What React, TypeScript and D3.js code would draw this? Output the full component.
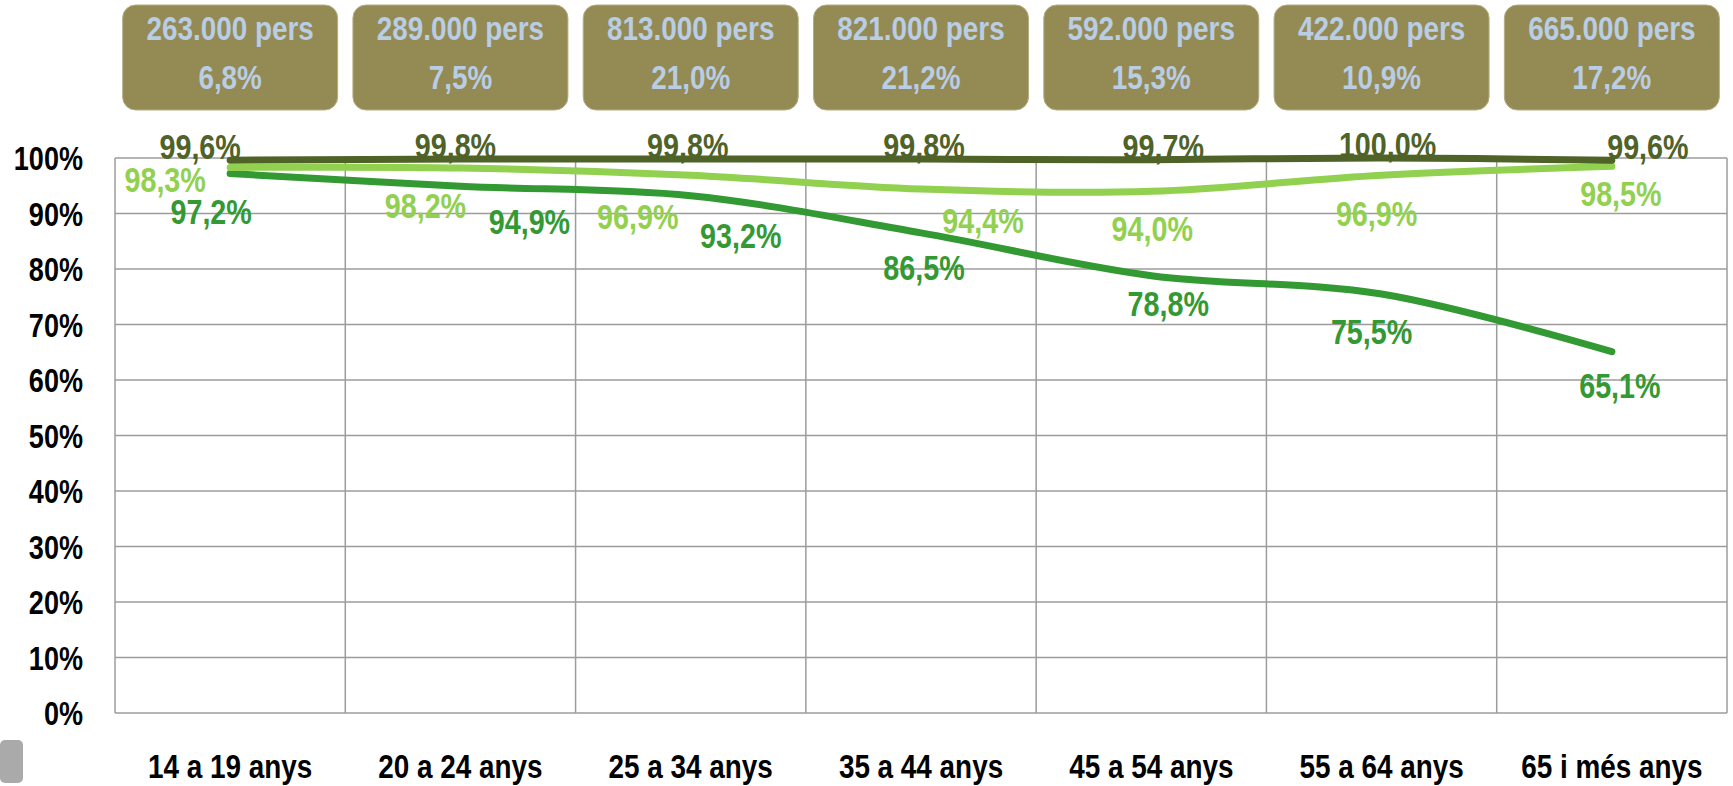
import * as d3 from 'd3';

const categories = [
  '14 a 19 anys',
  '20 a 24 anys',
  '25 a 34 anys',
  '35 a 44 anys',
  '45 a 54 anys',
  '55 a 64 anys',
  '65 i més anys',
];
const persons = ['263.000', '289.000', '813.000', '821.000', '592.000', '422.000', '665.000'];
const personsShare = [6.8, 7.5, 21.0, 21.2, 15.3, 10.9, 17.2];

const topSeries = [99.6, 99.8, 99.8, 99.8, 99.7, 100.0, 99.6];
const lightSeries = [98.3, 98.2, 96.9, 94.4, 94.0, 96.9, 98.5];
const greenSeries = [97.2, 94.9, 93.2, 86.5, 78.8, 75.5, 65.1];

const yTicks = [0, 10, 20, 30, 40, 50, 60, 70, 80, 90, 100];

// label nudges (dx from point, dy to baseline) — labels were placed by hand in the original
const topNudge = [[-30, -1], [-5, -1], [-3, -1], [3, -1], [12, -1], [6, -1], [36, -1]];
const lightNudge = [[-65, 25], [-35, 50], [-53, 54], [62, 44], [1, 50], [-5, 51], [9, 40]];
const greenNudge = [[-19, 50], [69, 48], [50, 52], [3, 47], [17, 40], [-10, 50], [8, 46]];

const W = 1733;
const H = 786;
const plot = { left: 115, right: 1727, top: 158, bottom: 713 };
const FONT = '"Liberation Sans", Arial, sans-serif';
const NARROW = 0.82; // fake Arial Narrow by squeezing Liberation Sans

const fmt = (v: number) => v.toFixed(1).replace('.', ',') + '%';

const series = [
  { values: greenSeries, color: '#339933', nudge: greenNudge },
  { values: lightSeries, color: '#92D050', nudge: lightNudge },
  { values: topSeries, color: '#4F6228', nudge: topNudge },
];

function NText({ x, y, size, fill, anchor = 'middle', children }: any) {
  return (
    <text
      transform={`translate(${x},${y}) scale(${NARROW},1)`}
      textAnchor={anchor}
      fontSize={size}
      fill={fill}
    >
      {children}
    </text>
  );
}

export default function App() {
  const x = d3.scaleBand<string>().domain(categories).range([plot.left, plot.right]).padding(0);
  const cx = (c: string) => (x(c) as number) + x.bandwidth() / 2;
  const y = d3.scaleLinear().domain([0, 100]).range([plot.bottom, plot.top]);

  const line = d3
    .line<number>()
    .x((_, i) => cx(categories[i]))
    .y((d) => y(d))
    .curve(d3.curveCatmullRom.alpha(0.5));

  const boxW = 215;

  return (
    <svg
      width={W}
      height={H}
      style={{ position: 'absolute', left: 0, top: 0, background: '#fff' }}
      fontFamily={FONT}
      fontWeight="bold"
    >
      {/* population boxes */}
      {categories.map((c, i) => (
        <g key={'box' + c}>
          <rect
            x={cx(c) - boxW / 2}
            y={5}
            width={boxW}
            height={105}
            rx={13}
            fill="#948A54"
            stroke="#B5AE83"
            strokeWidth={1}
          />
          <NText x={cx(c)} y={40} size={34} fill="#B9CDE5">
            {persons[i]} pers
          </NText>
          <NText x={cx(c)} y={89} size={34} fill="#B9CDE5">
            {fmt(personsShare[i])}
          </NText>
        </g>
      ))}

      {/* grid */}
      {yTicks.map((t) => (
        <line
          key={'h' + t}
          x1={plot.left}
          x2={plot.right}
          y1={y(t)}
          y2={y(t)}
          stroke="#9C9C9C"
          strokeWidth={1.5}
        />
      ))}
      {categories.map((c) => (
        <line
          key={'v' + c}
          x1={x(c)}
          x2={x(c)}
          y1={plot.top}
          y2={plot.bottom}
          stroke="#9C9C9C"
          strokeWidth={1.5}
        />
      ))}
      <line x1={plot.right} x2={plot.right} y1={plot.top} y2={plot.bottom} stroke="#9C9C9C" strokeWidth={1.5} />

      {/* y axis labels */}
      {yTicks.map((t) => (
        <NText key={'yl' + t} x={83} y={y(t) + 12} anchor="end" size={33} fill="#000">
          {t}%
        </NText>
      ))}

      {/* x axis labels */}
      {categories.map((c) => (
        <NText key={'xl' + c} x={cx(c)} y={778} size={34} fill="#000">
          {c}
        </NText>
      ))}

      <rect x={0} y={740} width={23} height={43} rx={5} fill="#AAAAAA" />

      {/* lines */}
      {series.map((s, k) => (
        <path
          key={'line' + k}
          d={line(s.values) as string}
          fill="none"
          stroke={s.color}
          strokeWidth={7}
          strokeLinecap="round"
        />
      ))}

      {/* labels */}
      {series.map((s, k) =>
        s.values.map((v, i) => (
          <NText
            key={'lab' + k + i}
            x={cx(categories[i]) + s.nudge[i][0]}
            y={y(v) + s.nudge[i][1]}
            size={35}
            fill={s.color}
          >
            {fmt(v)}
          </NText>
        ))
      )}
    </svg>
  );
}
